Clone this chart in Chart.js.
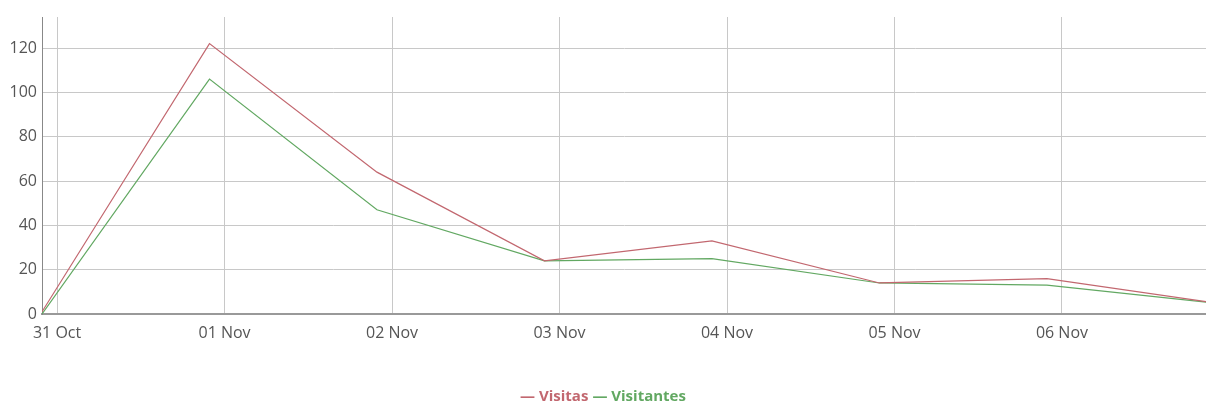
<!DOCTYPE html>
<html>
<head>
<meta charset="utf-8">
<script src="https://cdn.jsdelivr.net/npm/chart.js@4/dist/chart.umd.min.js"></script>
<style>
  html, body { margin: 0; padding: 0; background: #fff; }
  #wrap { position: relative; width: 1206px; height: 403px; overflow: hidden; }
  #legend { position: absolute; left: 0; width: 1206px; top: 385px; text-align: center;
            font-family: "Open Sans", sans-serif; font-weight: bold; font-size: 15px; line-height: 20px; }
  #legend span { margin: 0 2px; }
</style>
</head>
<body>
<div id="wrap">
  <canvas id="c" width="1206" height="403"></canvas>
  <div id="legend"></div>
</div>
<script>
// Tick labels for each day gridline
const xLabels = ['31 Oct', '01 Nov', '02 Nov', '03 Nov', '04 Nov', '05 Nov', '06 Nov'];
// Data samples are taken ~2h before each day boundary (offset in days)
const sampleDays = [-0.09, 0.91, 1.91, 2.91, 3.91, 4.91, 5.91, 6.91];
const seriesNames = ['Visitas', 'Visitantes'];
const visitas    = [1, 122, 64, 24, 33, 14, 16, 5];
const visitantes = [0, 106, 47, 24, 25, 14, 13, 5];
const seriesColors = ['#c2676f', '#62a862'];

const toPts = vals => vals.map((v, i) => ({ x: sampleDays[i], y: v }));

const legend = document.getElementById('legend');
seriesNames.forEach((n, i) => {
  const s = document.createElement('span');
  s.style.color = seriesColors[i];
  s.textContent = '\u2014 ' + n;
  legend.appendChild(s);
});

new Chart(document.getElementById('c'), {
  type: 'line',
  data: {
    datasets: [
      { label: seriesNames[0], data: toPts(visitas), borderColor: seriesColors[0], borderWidth: 1.2, pointRadius: 0, tension: 0, fill: false },
      { label: seriesNames[1], data: toPts(visitantes), borderColor: seriesColors[1], borderWidth: 1.2, pointRadius: 0, tension: 0, fill: false }
    ]
  },
  options: {
    responsive: false,
    animation: false,
    layout: { padding: { top: 17, right: 0, bottom: 59, left: 0 } },
    plugins: { legend: { display: false }, tooltip: { enabled: false } },
    scales: {
      x: {
        type: 'linear',
        min: -0.09,
        max: 6.86,
        afterBuildTicks: s => { s.ticks = xLabels.map((_, i) => ({ value: i })); },
        afterFit: s => { s.height = 30; },
        ticks: {
          callback: v => xLabels[v] !== undefined ? xLabels[v] : '',
          color: '#555',
          font: { family: 'Open Sans', size: 16 },
          padding: 10,
          maxRotation: 0,
          autoSkip: false
        },
        grid: { color: '#c8c8c8', lineWidth: 1, drawTicks: false },
        border: { color: '#999', width: 2 }
      },
      y: {
        min: 0,
        max: 134,
        afterBuildTicks: s => { s.ticks = [0, 20, 40, 60, 80, 100, 120].map(v => ({ value: v })); },
        afterFit: s => { s.width = 42; },
        ticks: {
          color: '#555',
          font: { family: 'Open Sans', size: 16 },
          padding: 5
        },
        grid: { color: '#c8c8c8', lineWidth: 1, drawTicks: false },
        border: { color: '#888', width: 1 }
      }
    }
  }
});
</script>
</body>
</html>
